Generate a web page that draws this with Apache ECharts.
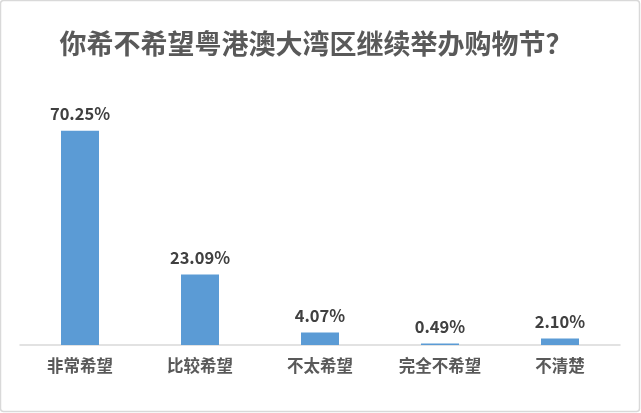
<!DOCTYPE html>
<html>
<head>
<meta charset="utf-8">
<script src="https://cdn.jsdelivr.net/npm/echarts@6/dist/echarts.min.js"></script>
<style>
    html, body { margin: 0; padding: 0; background: #fff; }
    #main { width: 641px; height: 413px; }
</style>
</head>
<body>
<div id="main"></div>
<script type="text/javascript">
    // 数据
    var titleText = '你希不希望粤港澳大湾区继续举办购物节？';
    var categories = ['非常希望', '比较希望', '不太希望', '完全不希望', '不清楚'];
    var percents = [70.25, 23.09, 4.07, 0.49, 2.10];

    var myChart = echarts.init(document.getElementById('main'));

    var option = {
        backgroundColor: '#fff',
        animation: false,
        title: {
            text: titleText,
            left: 311,
            textAlign: 'center',
            top: 25,
            textStyle: {
                fontFamily: 'Noto Sans CJK SC',
                fontSize: 27,
                fontWeight: 'bold',
                color: '#595959'
            }
        },
        graphic: [{
            type: 'rect',
            shape: { x: 0.5, y: 0.5, width: 639, height: 411, r: 3 },
            style: { fill: 'none', stroke: '#d9d9d9', lineWidth: 1.5 },
            silent: true
        }],
        grid: {
            left: 20,
            right: 21,
            top: 101,
            bottom: 68
        },
        xAxis: {
            type: 'category',
            data: categories,
            axisLine: { lineStyle: { color: '#d9d9d9', width: 1.5 } },
            axisTick: { show: false },
            axisLabel: {
                margin: 12,
                fontFamily: 'Noto Sans CJK SC',
                fontSize: 16.5,
                fontWeight: 'bold',
                color: '#595959'
            }
        },
        yAxis: {
            type: 'value',
            min: 0,
            max: 80,
            show: false
        },
        series: [{
            type: 'bar',
            data: percents,
            barWidth: 38,
            itemStyle: { color: '#5b9bd5' },
            label: {
                show: true,
                position: 'top',
                distance: 9,
                formatter: function (p) { return p.value.toFixed(2) + '%'; },
                fontFamily: 'Noto Sans CJK SC',
                fontSize: 16.5,
                fontWeight: 'bold',
                color: '#404040'
            }
        }]
    };

    myChart.setOption(option);
</script>
</body>
</html>
